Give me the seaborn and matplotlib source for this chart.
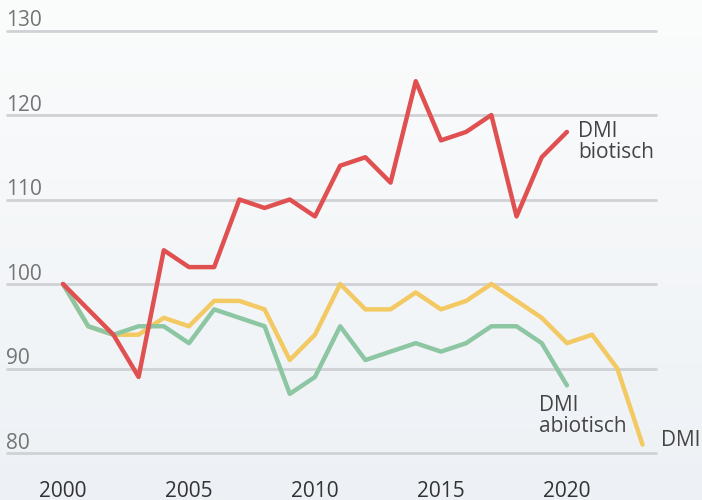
import numpy as np
import pandas as pd
import matplotlib
matplotlib.use("Agg")
import matplotlib.pyplot as plt
import seaborn as sns
from matplotlib.colors import LinearSegmentedColormap

# data (index, 2000 = 100)
years_bio = list(range(2000, 2021))
dmi_biotisch = [100, 97, 94, 89, 104, 102, 102, 110, 109, 110, 108,
                114, 115, 112, 124, 117, 118, 120, 108, 115, 118]
years_abio = list(range(2000, 2021))
dmi_abiotisch = [100, 95, 94, 95, 95, 93, 97, 96, 95, 87, 89,
                 95, 91, 92, 93, 92, 93, 95, 95, 93, 88]
years_dmi = list(range(2000, 2024))
dmi_total = [100, 95, 94, 94, 96, 95, 98, 98, 97, 91, 94,
             100, 97, 97, 99, 97, 98, 100, 98, 96, 93, 94, 90, 81]

y_ticks = [80, 90, 100, 110, 120, 130]
x_ticks = [2000, 2005, 2010, 2015, 2020]

df = pd.concat([
    pd.DataFrame({"jaar": years_bio, "waarde": dmi_biotisch, "reeks": "bio"}),
    pd.DataFrame({"jaar": years_abio, "waarde": dmi_abiotisch, "reeks": "abio"}),
    pd.DataFrame({"jaar": years_dmi, "waarde": dmi_total, "reeks": "dmi"}),
])

sns.set_style("white")
plt.rcParams["font.family"] = ["Open Sans", "DejaVu Sans"]

fig = plt.figure(figsize=(7.02, 5.0), dpi=100)
ax = fig.add_axes([0, 0, 1, 1])

x0, x1 = 1997.5, 2025.36
y0, y1 = 74.44, 133.61
ax.set_xlim(x0, x1)
ax.set_ylim(y0, y1)

# soft vertical gradient background
cmap = LinearSegmentedColormap.from_list("bg", ["#edf1f5", "#fbfcfc"])
grad = np.linspace(0, 1, 256).reshape(-1, 1)
ax.imshow(grad, cmap=cmap, origin="lower", extent=[x0, x1, y0, y1],
          aspect="auto", zorder=0)

# grid lines + labels
for v in y_ticks:
    ax.axhline(v, xmin=0.01, xmax=0.934, color="#cfd1d4", lw=2, zorder=1)
    ax.text(1997.75, v + 0.5, str(v), fontsize=15, color="#747474",
            ha="left", va="baseline")

for yr in x_ticks:
    ax.text(yr, 75.5, str(yr), fontsize=15, color="#333333",
            ha="center", va="center")

palette = {"dmi": "#f2c962", "abio": "#8dc6a3", "bio": "#e05050"}
sns.lineplot(data=df, x="jaar", y="waarde", hue="reeks",
             hue_order=["dmi", "abio", "bio"], palette=palette,
             linewidth=3.2, legend=False, ax=ax, zorder=3)

ax.text(2020.45, 116.8, "DMI\nbiotisch", fontsize=15, color="#444444",
        ha="left", va="center", linespacing=1.0)
ax.text(2018.9, 84.4, "DMI\nabiotisch", fontsize=15, color="#444444",
        ha="left", va="center", linespacing=1.0)
ax.text(2023.75, 81.5, "DMI", fontsize=15, color="#444444",
        ha="left", va="center")

ax.axis("off")
fig.savefig("out.png", dpi=100)
